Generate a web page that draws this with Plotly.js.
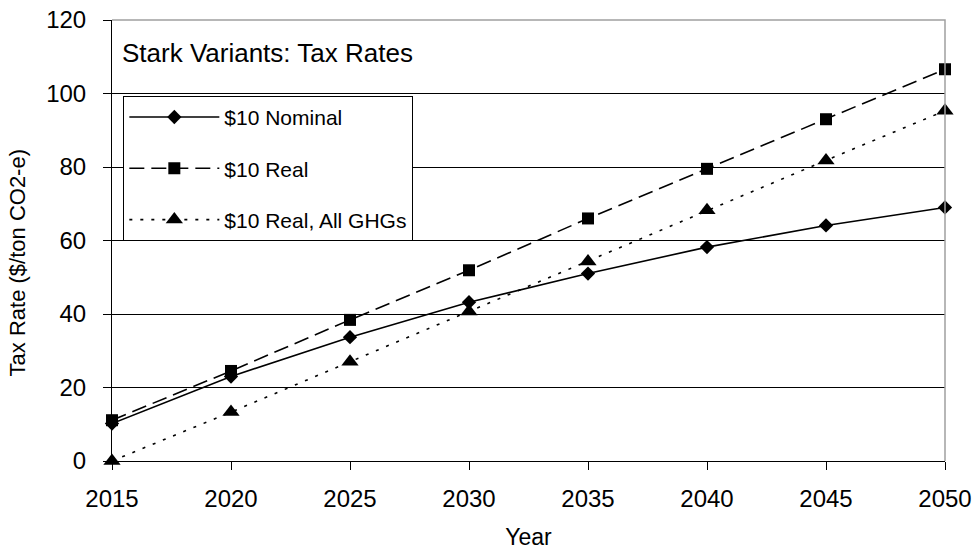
<!DOCTYPE html>
<html>
<head>
<meta charset="utf-8">
<script src="https://cdn.plot.ly/plotly-3.0.1.min.js"></script>
<style>
  html, body { margin: 0; padding: 0; background: #fff; }
  #chart { width: 977px; height: 554px; }
</style>
</head>
<body>
<div id="chart"></div>
<script>
/* Stark Variants: tax rate paths, 2015-2050 */
var years      = [2015, 2020, 2025, 2030, 2035, 2040, 2045, 2050];
var nominal10  = [10.2, 23.0, 33.7, 43.2, 51.0, 58.2, 64.1, 69.0];
var real10     = [11.1, 24.5, 38.4, 51.9, 66.0, 79.5, 93.0, 106.6];
var realAllGhg = [0, 13.3, 27.0, 40.7, 54.3, 68.2, 81.8, 95.3];
var yTicks     = [0, 20, 40, 60, 80, 100, 120];

var FONT = 'Liberation Sans, Arial, sans-serif';

function series(name, vals, dash, symbol, size) {
  return {
    type: 'scatter', mode: 'lines+markers',
    name: name,
    x: years, y: vals,
    legendgroup: name,
    line: { color: '#000', width: 1.6, dash: dash },
    marker: { color: '#000', symbol: symbol, size: size },
    cliponaxis: false
  };
}

var traces = [
  series('$10 Nominal', nominal10, 'solid', 'diamond', 11),
  series('$10 Real', real10, '15px,7px', 'square', 12),
  series('$10 Real, All GHGs', realAllGhg, '3px,8px', 'triangle-up', 15)
];

var layout = {
  width: 977, height: 554,
  paper_bgcolor: '#fff', plot_bgcolor: '#fff',
  font: { family: FONT, color: '#000', size: 21 },
  margin: { l: 112, r: 32, t: 20, b: 93 },
  title: {
    text: 'Stark Variants: Tax Rates',
    font: { family: FONT, size: 26, color: '#000' },
    xref: 'paper', x: 0.012, xanchor: 'left',
    yref: 'container', y: 1 - 53 / 554, yanchor: 'middle'
  },
  xaxis: {
    range: [2015, 2050], tickvals: years, fixedrange: true,
    showgrid: false, zeroline: false,
    showline: true, linecolor: '#000', linewidth: 1,
    ticks: 'outside', ticklen: 8, tickcolor: '#000',
    ticklabelstandoff: 8,
    tickfont: { size: 24 },
    title: { text: 'Year', font: { size: 23 }, standoff: 18 }
  },
  yaxis: {
    range: [0, 120], tickvals: yTicks, fixedrange: true,
    showgrid: true, gridcolor: '#000', gridwidth: 1, zeroline: false,
    showline: true, linecolor: '#000', linewidth: 1,
    ticks: 'outside', ticklen: 8, tickcolor: '#000',
    ticklabelstandoff: 12,
    tickfont: { size: 24 }
  },
  annotations: [
    { text: 'Tax Rate ($/ton CO2-e)', textangle: -90, showarrow: false,
      xref: 'paper', yref: 'paper', x: -0.113, y: 0.45,
      xanchor: 'center', yanchor: 'middle',
      font: { family: FONT, size: 22, color: '#000' } }
  ],
  shapes: [
    { type: 'path', xref: 'paper', yref: 'paper', layer: 'above',
      path: 'M0,1 L1,1 L1,0', line: { color: '#a0a0a0', width: 1.5 } }
  ],
  showlegend: true,
  legend: {
    x: 0.0136, y: 0.828, xanchor: 'left', yanchor: 'top',
    bgcolor: '#fff', bordercolor: '#000', borderwidth: 1,
    font: { family: FONT, size: 21, color: '#000' },
    traceorder: 'grouped', tracegroupgap: 21,
    itemwidth: 90
  }
};

Plotly.newPlot('chart', traces, layout, { displayModeBar: false, staticPlot: true });
</script>
</body>
</html>
